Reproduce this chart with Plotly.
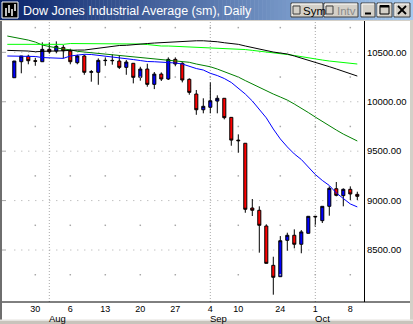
import plotly.graph_objects as go

W, H = 413, 324

# ---------------- data ----------------
dates = ["2001-07-25", "2001-07-26", "2001-07-27", "2001-07-30", "2001-07-31",
         "2001-08-01", "2001-08-02", "2001-08-03", "2001-08-06", "2001-08-07",
         "2001-08-08", "2001-08-09", "2001-08-10", "2001-08-13", "2001-08-14",
         "2001-08-15", "2001-08-16", "2001-08-17", "2001-08-20", "2001-08-21",
         "2001-08-22", "2001-08-23", "2001-08-24", "2001-08-27", "2001-08-28",
         "2001-08-29", "2001-08-30", "2001-08-31", "2001-09-04", "2001-09-05",
         "2001-09-06", "2001-09-07", "2001-09-10", "2001-09-17", "2001-09-18",
         "2001-09-19", "2001-09-20", "2001-09-21", "2001-09-24", "2001-09-25",
         "2001-09-26", "2001-09-27", "2001-09-28", "2001-10-01", "2001-10-02",
         "2001-10-03", "2001-10-04", "2001-10-05", "2001-10-08", "2001-10-09"]

opens = [10243, 10405, 10460, 10415, 10405, 10530, 10513, 10550, 10513, 10395,
         10463, 10298, 10298, 10416, 10419, 10412, 10348, 10389, 10247, 10331,
         10176, 10280, 10230, 10429, 10389, 10227, 10078, 9919, 9944, 10007,
         10035, 9842, 9612, 9580, 8925, 8902, 8743, 8345, 8230, 8598,
         8649, 8558, 8669, 8841, 8797, 8942, 9120, 9050, 9114, 9063]
highs = [10412, 10463, 10476, 10445, 10601, 10601, 10611, 10574, 10536, 10476,
         10476, 10321, 10439, 10449, 10479, 10470, 10422, 10389, 10354, 10385,
         10301, 10297, 10449, 10449, 10400, 10237, 10119, 10035, 10196, 10065,
         10035, 9842, 9670, 9580, 9016, 8942, 8760, 8432, 8641, 8675,
         8709, 8702, 8841, 8845, 8942, 9144, 9188, 9124, 9144, 9090]
lows = [10243, 10288, 10379, 10364, 10405, 10486, 10490, 10439, 10379, 10379,
        10273, 10203, 10172, 10364, 10375, 10331, 10273, 10186, 10213, 10152,
        10128, 10210, 10220, 10359, 10196, 10071, 9868, 9883, 9883, 9883,
        9822, 9555, 9484, 8877, 8844, 8473, 8365, 8048, 8230, 8493,
        8517, 8467, 8669, 8736, 8773, 8847, 9043, 8942, 9006, 9006]
closes = [10412, 10463, 10415, 10410, 10530, 10506, 10561, 10516, 10405, 10463,
          10298, 10304, 10419, 10419, 10416, 10348, 10402, 10247, 10331, 10176,
          10280, 10230, 10429, 10382, 10220, 10095, 9919, 9954, 10010, 10035,
          9839, 9612, 9606, 8912, 8902, 8750, 8365, 8224, 8594, 8649,
          8558, 8683, 8841, 8836, 8942, 9124, 9053, 9114, 9067, 9043]

ma_dates = ["2001-07-24"] + dates
ma_blue = [10463, 10463, 10463, 10463, 10458, 10447, 10442, 10439, 10439, 10463,
           10473, 10480, 10478, 10470, 10463, 10455, 10449, 10442, 10427, 10417,
           10407, 10405, 10402, 10399, 10392, 10382, 10356, 10336, 10321, 10288,
           10265, 10235, 10195, 10139, 10078, 10008, 9926, 9837, 9724, 9624,
           9543, 9472, 9416, 9345, 9264, 9204, 9153, 9077, 9017, 8966, 8936]
ma_dkgreen = [10665, 10652, 10640, 10624, 10604, 10574, 10559, 10543, 10533, 10526,
              10510, 10503, 10496, 10490, 10483, 10475, 10468, 10460, 10452, 10445,
              10437, 10429, 10422, 10417, 10412, 10405, 10399, 10382, 10368, 10354,
              10331, 10306, 10280, 10250, 10214, 10179, 10144, 10114, 10078, 10048,
              10017, 9977, 9936, 9891, 9845, 9800, 9754, 9714, 9673, 9638, 9603]
ma_green = [10581, 10581, 10581, 10581, 10581, 10581, 10581, 10581, 10581, 10589,
            10589, 10589, 10589, 10589, 10589, 10589, 10589, 10589, 10584, 10584,
            10579, 10569, 10564, 10564, 10561, 10554, 10551, 10551, 10549, 10543,
            10540, 10540, 10538, 10533, 10528, 10520, 10513, 10506, 10498, 10488,
            10478, 10468, 10455, 10442, 10432, 10422, 10412, 10405, 10397, 10389, 10382]
ma_black = [10520, 10520, 10520, 10513, 10506, 10513, 10513, 10513, 10518, 10523,
            10523, 10523, 10533, 10543, 10554, 10561, 10569, 10571, 10579, 10584,
            10589, 10594, 10599, 10604, 10609, 10614, 10617, 10617, 10617, 10614,
            10607, 10597, 10589, 10581, 10564, 10549, 10533, 10513, 10503, 10493,
            10483, 10463, 10443, 10420, 10399, 10378, 10355, 10332, 10308, 10284, 10260]

tick_dates = ["2001-07-30", "2001-08-06", "2001-08-13", "2001-08-20", "2001-08-27",
              "2001-09-04", "2001-09-10", "2001-09-24", "2001-10-01", "2001-10-08"]
tick_text = ["30", "6", "13", "20", "27", "4", "10", "24", "1", "8"]
month_dates = ["2001-08-01", "2001-09-04", "2001-10-01"]
month_text = ["Aug", "Sep", "Oct"]
y_ticks = [8500, 9000, 9500, 10000, 10500]
y_minor = [8250, 8750, 9250, 9750, 10250, 10750]
title_text = "Dow Jones Industrial Average (sm), Daily"

# --------------- helpers ---------------
pos = {d: i for i, d in enumerate(dates)}
pos["2001-07-24"] = -1
xs = [pos[d] for d in dates]
ma_xs = [pos[d] for d in ma_dates]

X_LO, X_HI = -1.614, 49.957
Y_LO, Y_HI = 7974, 10817
PL, PR, PT, PB = 3, 364, 21, 302  # plot area in pixels

def px(x):
    return x / W

def py(y):
    return 1 - y / H

FONT = "Liberation Sans"

fig = go.Figure()

# moving averages
for vals, col in [(ma_dkgreen, "#008000"), (ma_green, "#00FF00"),
                  (ma_black, "#000000"), (ma_blue, "#0000FF")]:
    fig.add_trace(go.Scatter(x=ma_xs, y=vals, mode="lines",
                             line=dict(color=col, width=1), hoverinfo="skip",
                             showlegend=False))

# minor grid dots (weekly positions x 250-level)
gx, gy = [], []
for d in tick_dates:
    for lv in y_minor:
        gx.append(pos[d]); gy.append(lv)
fig.add_trace(go.Scatter(x=gx, y=gy, mode="markers",
                         marker=dict(symbol="square", size=1.5, color="#A8A8A8",
                                     line=dict(width=0)),
                         hoverinfo="skip", showlegend=False))

# candles
fig.add_trace(go.Candlestick(
    x=xs, open=opens, high=highs, low=lows, close=closes,
    increasing=dict(fillcolor="#0000FF", line=dict(color="#000000", width=1)),
    decreasing=dict(fillcolor="#FF0000", line=dict(color="#000000", width=1)),
    whiskerwidth=0, showlegend=False, hoverinfo="skip"))

shapes = []
annotations = []

# grid: month verticals
for d in month_dates:
    shapes.append(dict(type="line", xref="x", yref="paper", x0=pos[d], x1=pos[d],
                       y0=py(PB), y1=py(PT), layer="below",
                       line=dict(color="#A8A8A8", width=1, dash="1px,2px")))
# grid: major horizontals
for v in y_ticks:
    shapes.append(dict(type="line", xref="x", yref="y", x0=0, x1=X_HI, y0=v, y1=v,
                       layer="below",
                       line=dict(color="#A8A8A8", width=1, dash="1px,6px")))
    shapes.append(dict(type="line", xref="paper", yref="y", x0=px(2), x1=px(6),
                       y0=v, y1=v, line=dict(color="#A8A8A8", width=1)))

# frame / borders
shapes.append(dict(type="rect", xref="paper", yref="paper", x0=px(0), x1=px(2),
                   y0=py(H), y1=py(20), fillcolor="#6E6E6E", line=dict(width=0)))
shapes.append(dict(type="rect", xref="paper", yref="paper", x0=px(410), x1=px(W),
                   y0=py(H), y1=py(20), fillcolor="#D4D0C8", line=dict(width=0)))
shapes.append(dict(type="rect", xref="paper", yref="paper", x0=px(0), x1=px(W),
                   y0=py(321), y1=py(319.5), fillcolor="#E6E4E0", line=dict(width=0)))
shapes.append(dict(type="rect", xref="paper", yref="paper", x0=px(0), x1=px(W),
                   y0=py(H), y1=py(321), fillcolor="#C8C4BC", line=dict(width=0)))
# x axis line across full width
shapes.append(dict(type="line", xref="paper", yref="paper", x0=px(2), x1=px(410),
                   y0=py(PB), y1=py(PB), line=dict(color="#000000", width=1)))

# title bar gradient
c0 = (10, 36, 106)
c1 = (166, 202, 240)
steps = 104
for k in range(steps):
    t = k / (steps - 1)
    col = "rgb(%d,%d,%d)" % tuple(round(a + (b - a) * t) for a, b in zip(c0, c1))
    shapes.append(dict(type="rect", xref="paper", yref="paper",
                       x0=px(k * W / steps), x1=px((k + 1) * W / steps + 0.5),
                       y0=py(20), y1=py(0), fillcolor=col, line=dict(width=0)))
shapes.append(dict(type="line", xref="paper", yref="paper", x0=0, x1=1,
                   y0=py(20.5), y1=py(20.5), line=dict(color="#D4D0C8", width=1)))

# icon
shapes.append(dict(type="rect", xref="paper", yref="paper", x0=px(2), x1=px(18),
                   y0=py(18), y1=py(2), fillcolor="#000000",
                   line=dict(color="#FFFFFF", width=1)))
for (ix, iy0, iy1) in [(6, 8, 16), (9, 5, 13), (12, 9, 16), (15, 4, 11)]:
    shapes.append(dict(type="line", xref="paper", yref="paper", x0=px(ix), x1=px(ix),
                       y0=py(iy1), y1=py(iy0), line=dict(color="#FFFFFF", width=1.5)))

annotations.append(dict(xref="paper", yref="paper", x=px(21), y=py(10.5),
                        xanchor="left", yanchor="middle", showarrow=False,
                        text=title_text,
                        font=dict(family=FONT, size=12.5, color="#FFFFFF")))

# buttons
def button(x0, x1, y0=3, y1=17):
    shapes.append(dict(type="rect", xref="paper", yref="paper", x0=px(x0), x1=px(x1),
                       y0=py(y1), y1=py(y0), fillcolor="#D4D0C8",
                       line=dict(color="#404040", width=1)))
    shapes.append(dict(type="path", xref="paper", yref="paper",
                       path="M %f,%f L %f,%f L %f,%f" % (px(x0 + 1), py(y1 - 1), px(x0 + 1),
                                                        py(y0 + 1), px(x1 - 1), py(y0 + 1)),
                       line=dict(color="#FFFFFF", width=1)))

button(291, 323)
button(324, 358)
button(361, 375)
button(377, 392)
button(394, 410)

# checkboxes in Sym / Intv
for cx in (293, 326):
    shapes.append(dict(type="rect", xref="paper", yref="paper", x0=px(cx), x1=px(cx + 7),
                       y0=py(14), y1=py(6), fillcolor="#D4D0C8",
                       line=dict(color="#404040", width=1)))
annotations.append(dict(xref="paper", yref="paper", x=px(301), y=py(10.5), xanchor="left",
                        yanchor="middle", showarrow=False, text="Sym",
                        font=dict(family=FONT, size=11.5, color="#000000")))
annotations.append(dict(xref="paper", yref="paper", x=px(335), y=py(10.5), xanchor="left",
                        yanchor="middle", showarrow=False, text="Intv",
                        font=dict(family=FONT, size=11.5, color="#8C8C8C")))
# minimize
shapes.append(dict(type="line", xref="paper", yref="paper", x0=px(365), x1=px(371),
                   y0=py(13.5), y1=py(13.5), line=dict(color="#000000", width=2)))
# maximize
shapes.append(dict(type="rect", xref="paper", yref="paper", x0=px(380), x1=px(389),
                   y0=py(14), y1=py(5.5), line=dict(color="#000000", width=1)))
shapes.append(dict(type="line", xref="paper", yref="paper", x0=px(380), x1=px(389),
                   y0=py(6.5), y1=py(6.5), line=dict(color="#000000", width=2)))
# close
shapes.append(dict(type="line", xref="paper", yref="paper", x0=px(398), x1=px(406),
                   y0=py(14), y1=py(6), line=dict(color="#000000", width=1.8)))
shapes.append(dict(type="line", xref="paper", yref="paper", x0=px(398), x1=px(406),
                   y0=py(6), y1=py(14), line=dict(color="#000000", width=1.8)))

# month labels
for d, t in zip(month_dates, month_text):
    annotations.append(dict(xref="x", yref="paper", x=pos[d], y=py(311.5), xanchor="left",
                            yanchor="top", showarrow=False, text=t, xshift=-1,
                            borderpad=0,
                            font=dict(family=FONT, size=9.5, color="#000000")))

fig.update_layout(
    width=W, height=H, margin=dict(l=0, r=0, t=0, b=0),
    paper_bgcolor="#FFFFFF", plot_bgcolor="#FFFFFF",
    showlegend=False, boxgap=0.38,
    shapes=shapes, annotations=annotations,
    xaxis=dict(domain=[px(PL), px(PR)], range=[X_LO, X_HI], showgrid=False,
               zeroline=False, showline=False, ticks="",
               tickvals=[pos[d] for d in tick_dates], ticktext=tick_text,
               tickfont=dict(family=FONT, size=9, color="#000000"),
               rangeslider=dict(visible=False), fixedrange=True),
    yaxis=dict(domain=[py(PB), py(PT)], range=[Y_LO, Y_HI], side="right",
               showgrid=False, zeroline=False, showline=True, linecolor="#000000",
               linewidth=1, ticks="", tickvals=y_ticks,
               ticktext=["%.2f" % v for v in y_ticks],
               tickfont=dict(family=FONT, size=9.5, color="#000000"), fixedrange=True),
)

fig.write_html("out.html")
